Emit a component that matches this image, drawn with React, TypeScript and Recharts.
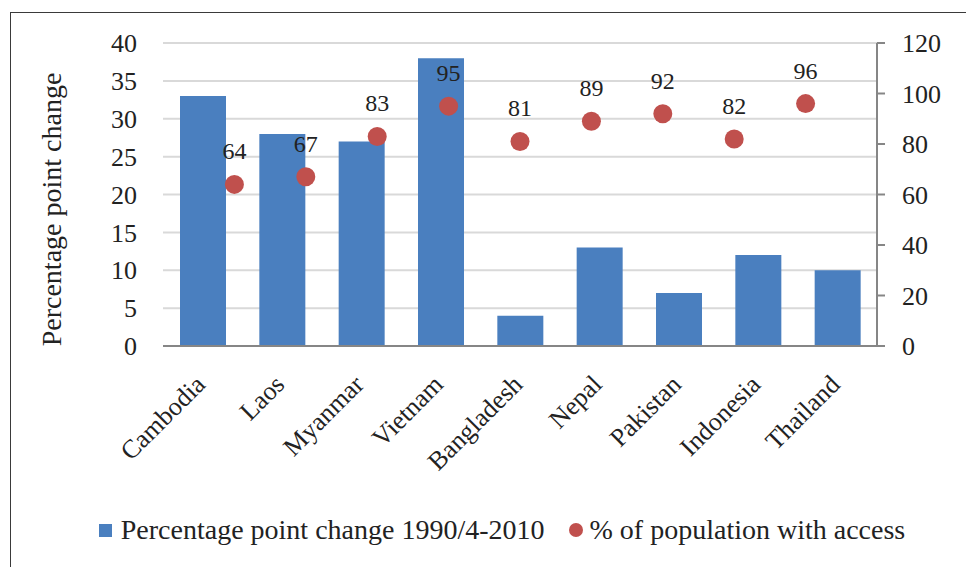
import React from 'react'
import {
  ComposedChart,
  Bar,
  Scatter,
  CartesianGrid,
  XAxis,
  YAxis,
  Legend,
} from 'recharts'

const countries = ['Cambodia', 'Laos', 'Myanmar', 'Vietnam', 'Bangladesh', 'Nepal', 'Pakistan', 'Indonesia', 'Thailand']
const pointChange = [33, 28, 27, 38, 4, 13, 7, 12, 10]
const accessShare = [64, 67, 83, 95, 81, 89, 92, 82, 96]
// the access dots sit on their own 0..10 scale in the original, not on the category centres
const dotPosition = [1, 2, 3, 4, 5, 6, 7, 8, 9]
const leftTicks = [0, 5, 10, 15, 20, 25, 30, 35, 40]
const rightTicks = [0, 20, 40, 60, 80, 100, 120]

const barData = countries.map((name, i) => ({ name, change: pointChange[i] }))
const dotData = countries.map((name, i) => ({ name, pos: dotPosition[i], access: accessShare[i] }))

const FONT = '"Liberation Serif", "Times New Roman", serif'
const TEXT = '#222'
const AXIS = '#868686'
const BLUE = '#4a7fbf'
const RED = '#c0504d'
const serif = { fontFamily: FONT }

const CountryTick = ({ x, y, payload }: any) => {
  const ax = x + 4
  const ay = y + 40
  return (
    <text x={ax} y={ay} transform={`rotate(-45 ${ax} ${ay})`} textAnchor="end" fontSize={26} fill={TEXT} style={serif}>
      {payload.value}
    </text>
  )
}

const ValueTick = ({ x, y, payload, textAnchor }: any) => (
  <text x={x} y={y} dy="0.355em" textAnchor={textAnchor} fontSize={26} fill={TEXT} style={serif}>
    {payload.value}
  </text>
)

const AccessDot = (p: any) => (
  <g>
    <circle cx={p.cx} cy={p.cy} r={9.5} fill={RED} />
    <text x={p.cx} y={p.cy - 25} textAnchor="middle" fontSize={24} fill={TEXT} style={serif}>
      {p.payload.access}
    </text>
  </g>
)

const LegendBox = () => (
  <div style={{ height: 75, paddingTop: 1, boxSizing: 'border-box', display: 'flex', justifyContent: 'center', fontFamily: FONT, fontSize: 28, color: TEXT, lineHeight: '30px', paddingLeft: 38 }}>
    <span style={{ display: 'flex', alignItems: 'center' }}>
      <span style={{ width: 13, height: 13, background: BLUE, marginRight: 9 }} />
      Percentage point change 1990/4-2010
    </span>
    <span style={{ display: 'flex', alignItems: 'center', marginLeft: 24 }}>
      <span style={{ width: 14, height: 14, borderRadius: 7, background: RED, marginRight: 7 }} />
      % of population with access
    </span>
  </div>
)

export default function App() {
  return (
    <div style={{ position: 'fixed', left: 0, top: 0, width: 966, height: 567, overflow: 'hidden', background: '#fff' }}>
      <div style={{ position: 'absolute', left: 10, top: 12, width: 2000, height: 2000, border: '1.5px solid #3a3a3a' }} />
      <div style={{ position: 'absolute', left: 0, top: 0 }}>
        <ComposedChart width={966} height={567} data={barData} margin={{ top: 43, right: 0, bottom: 0, left: 0 }} barCategoryGap="21%">
          <CartesianGrid yAxisId="left" vertical={false} stroke="#d9d9d9" strokeWidth={2} />
          <XAxis
            dataKey="name"
            height={146}
            interval={0}
            tickLine={false}
            tickSize={0}
            tickMargin={0}
            axisLine={{ stroke: AXIS, strokeWidth: 2 }}
            tick={<CountryTick />}
          />
          <XAxis xAxisId="pos" type="number" dataKey="pos" domain={[0, 10]} allowDataOverflow hide />
          <YAxis
            yAxisId="left"
            width={163}
            domain={[0, 40]}
            ticks={leftTicks}
            interval={0}
            axisLine={false}
            tickLine={false}
            tickSize={0}
            tickMargin={26}
            tick={<ValueTick />}
            label={{ value: 'Percentage point change', angle: -90, position: 'center', dx: -30, dy: 15, fontSize: 28, fill: TEXT, style: serif }}
          />
          <YAxis
            yAxisId="right"
            orientation="right"
            width={89}
            domain={[0, 120]}
            ticks={rightTicks}
            interval={0}
            axisLine={{ stroke: AXIS, strokeWidth: 2 }}
            tickLine={{ stroke: AXIS, strokeWidth: 2 }}
            tickSize={8}
            tickMargin={17}
            tick={<ValueTick />}
          />
          <Legend verticalAlign="bottom" content={<LegendBox />} />
          <Bar yAxisId="left" dataKey="change" name="Percentage point change 1990/4-2010" fill={BLUE} barSize={46} isAnimationActive={false} />
          <Scatter
            data={dotData}
            xAxisId="pos"
            yAxisId="right"
            dataKey="access"
            name="% of population with access"
            fill={RED}
            shape={<AccessDot />}
            isAnimationActive={false}
          />
        </ComposedChart>
      </div>
    </div>
  )
}
